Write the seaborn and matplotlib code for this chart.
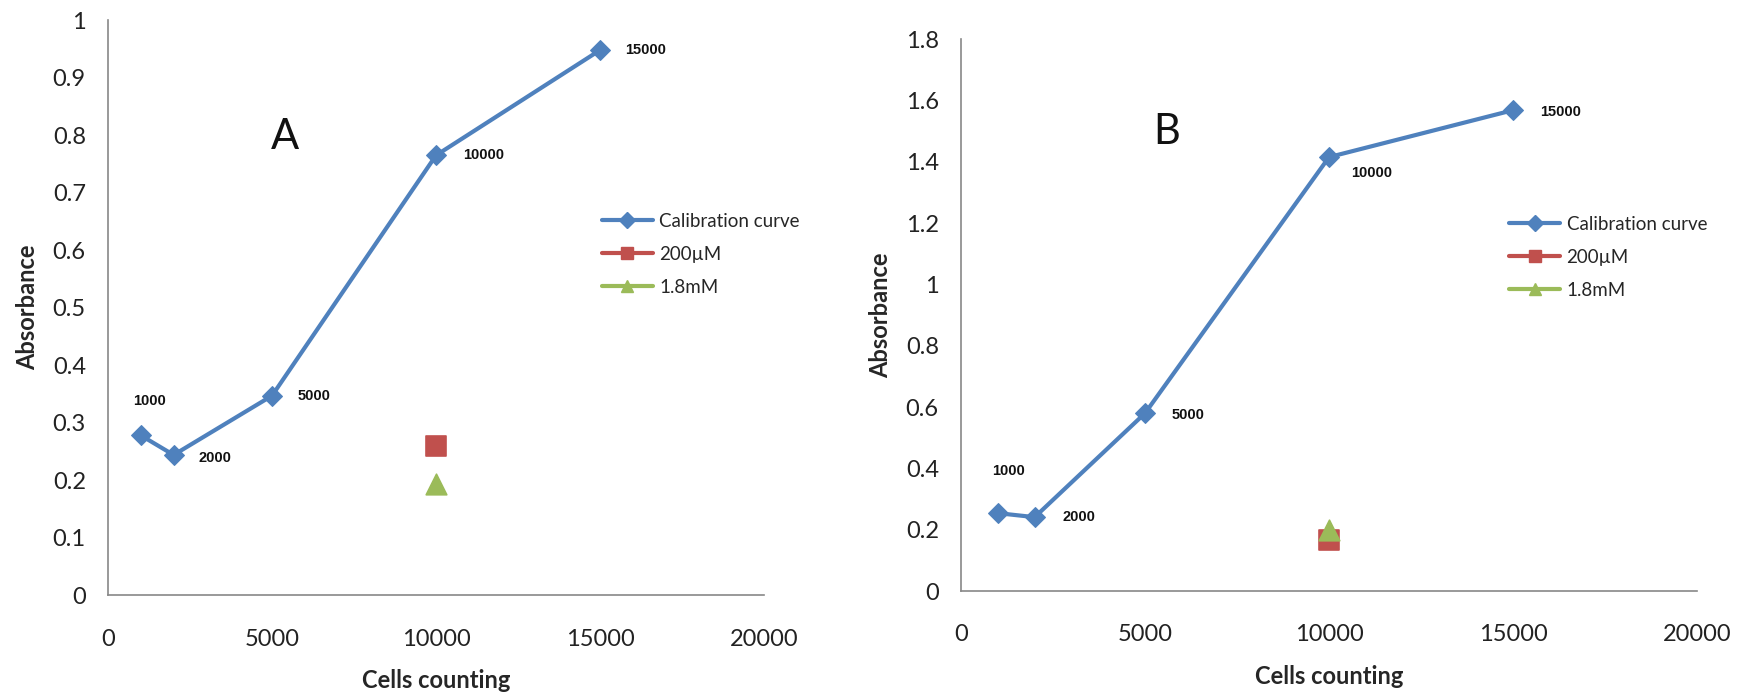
import matplotlib
matplotlib.use("Agg")
import matplotlib.pyplot as plt
import seaborn as sns
import pandas as pd
from matplotlib.lines import Line2D

sns.set_theme(style="white")
plt.rcParams['font.family'] = ['Lato', 'DejaVu Sans']

cells = [1000, 2000, 5000, 10000, 15000]
cal_a = [0.278, 0.244, 0.347, 0.765, 0.948]
cal_b = [0.254, 0.241, 0.580, 1.415, 1.568]
sample_x = [10000]
uM200_a = [0.259]
mM18_a = [0.193]
uM200_b = [0.165]
mM18_b = [0.198]
point_labels = ["1000", "2000", "5000", "10000", "15000"]
series_names = ["Calibration curve", "200\u00b5M", "1.8mM"]

BLUE = "#4F81BD"
RED = "#C0504D"
GREEN = "#9BBB59"

fig = plt.figure(figsize=(17.42, 6.97), dpi=100)
axA = fig.add_axes([0.062, 0.146, 0.3766, 0.825])
axB = fig.add_axes([0.5517, 0.152, 0.4225, 0.792])

# label offsets in points (dx, dy), label centred
offsA = [(6, 25), (30, -2), (30, 0), (34, 0), (33, 0)]
offsB = [(8, 30), (32, 0), (31, -1), (31, -11.5), (34, -1.5)]


def draw(ax, cal, s200, s18, ymax, ystep, letter, letter_xy, offsets, leg_xy):
    df = pd.DataFrame({"cells": cells, "abs": cal})
    sns.lineplot(data=df, x="cells", y="abs", ax=ax, color=BLUE, linewidth=3,
                 marker="D", markersize=10, markeredgecolor=BLUE, zorder=3)
    d2 = pd.DataFrame({"cells": sample_x, "abs": s200})
    sns.scatterplot(data=d2, x="cells", y="abs", ax=ax, color=RED, marker="s", s=220,
                    edgecolor=RED, zorder=4)
    d3 = pd.DataFrame({"cells": sample_x, "abs": s18})
    sns.scatterplot(data=d3, x="cells", y="abs", ax=ax, color=GREEN, marker="^", s=220,
                    edgecolor=GREEN, zorder=5)
    for x, y, t, (dx, dy) in zip(cells, cal, point_labels, offsets):
        ax.annotate(t, (x, y), xytext=(dx, dy), textcoords="offset points",
                    fontsize=10.5, fontweight="bold", ha="center", va="center",
                    family=["Liberation Sans", "DejaVu Sans"], color="#111111")
    ax.set_xlim(0, 20000)
    ax.set_ylim(0, ymax)
    ax.set_xticks([0, 5000, 10000, 15000, 20000])
    yt = [round(i * ystep, 2) for i in range(int(round(ymax / ystep)) + 1)]
    ax.set_yticks(yt)
    ax.set_yticklabels([("%g" % v) for v in yt])
    ax.tick_params(axis="x", labelsize=17, colors="#222222", length=0, pad=24)
    ax.tick_params(axis="y", labelsize=17, colors="#222222", length=0, pad=16)
    ax.set_xlabel("Cells counting", fontsize=17, fontweight="bold", labelpad=14)
    ax.set_ylabel("Absorbance", fontsize=17, fontweight="bold", labelpad=10)
    for s in ["top", "right"]:
        ax.spines[s].set_visible(False)
    for s in ["left", "bottom"]:
        ax.spines[s].set_color("#888888")
        ax.spines[s].set_linewidth(1.2)
    ax.text(letter_xy[0], letter_xy[1], letter, transform=ax.transAxes, fontsize=30,
            ha="center", va="center", color="#111111")
    handles = [
        Line2D([], [], color=BLUE, marker="D", markersize=8, linewidth=3),
        Line2D([], [], color=RED, marker="s", markersize=9, linewidth=3),
        Line2D([], [], color=GREEN, marker="^", markersize=9, linewidth=3),
    ]
    ax.legend(handles, series_names, loc="center left", bbox_to_anchor=leg_xy,
              frameon=False, fontsize=13.5, handlelength=2.7, handletextpad=0.35,
              labelspacing=0.85, borderpad=0, borderaxespad=0)


draw(axA, cal_a, uM200_a, mM18_a, 1.0, 0.1, "A", (0.27, 0.797), offsA, (0.753, 0.593))
draw(axB, cal_b, uM200_b, mM18_b, 1.8, 0.2, "B", (0.28, 0.832), offsB, (0.745, 0.605))

fig.savefig("out.png", dpi=100)
